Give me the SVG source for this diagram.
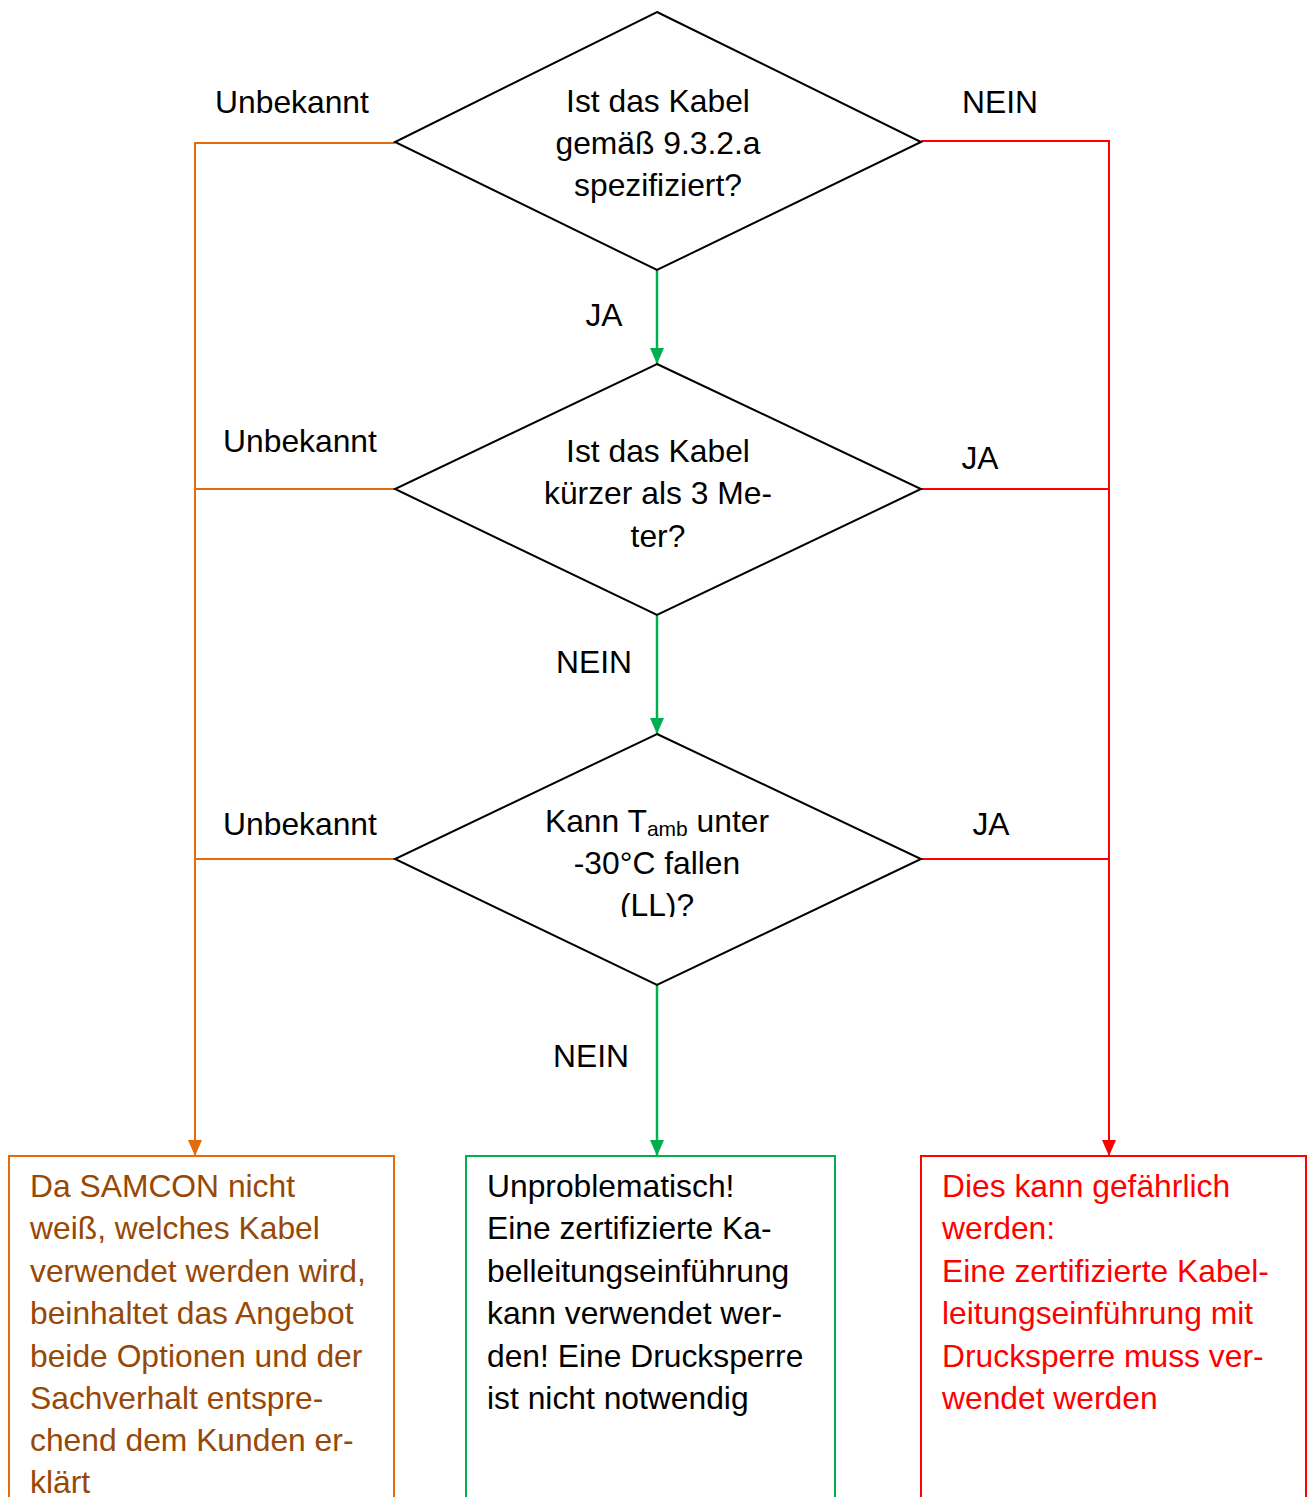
<svg xmlns="http://www.w3.org/2000/svg" width="1309" height="1497" viewBox="0 0 1309 1497">
<style>
text{font-family:"Liberation Sans",Arial,sans-serif;font-size:31.8px;fill:#000}
.c{text-anchor:middle}
.dia{fill:#fff;stroke:#000;stroke-width:2}
.or{stroke:#E36C09;stroke-width:2;fill:none}
.rd{stroke:#FF0000;stroke-width:2;fill:none}
.gr{stroke:#00B050;stroke-width:2.5;fill:none}
.tor{fill:#984806}
.trd{fill:#FF0000}
</style>
<defs>
<marker id="ao" markerWidth="16" markerHeight="16" refX="16" refY="8" orient="auto" markerUnits="userSpaceOnUse"><path d="M0,1 L16,8 L0,15 Z" fill="#E36C09"/></marker>
<marker id="ar" markerWidth="16" markerHeight="16" refX="16" refY="8" orient="auto" markerUnits="userSpaceOnUse"><path d="M0,1 L16,8 L0,15 Z" fill="#FF0000"/></marker>
<marker id="agr" markerWidth="16" markerHeight="16" refX="16" refY="8" orient="auto" markerUnits="userSpaceOnUse"><path d="M0,1 L16,8 L0,15 Z" fill="#00B050"/></marker>
<clipPath id="clip3"><rect x="395" y="734" width="526" height="183"/></clipPath>
</defs>
<g id="connectors">
<path class="or" d="M395,143 H195 V1156" marker-end="url(#ao)"/>
<path class="or" d="M395,489 H195"/>
<path class="or" d="M395,859 H195"/>
<path class="rd" d="M921,141 H1109 V1156" marker-end="url(#ar)"/>
<path class="rd" d="M921,489 H1109"/>
<path class="rd" d="M921,859 H1109"/>
<path class="gr" d="M657,270 V364" marker-end="url(#agr)"/>
<path class="gr" d="M657,615 V734" marker-end="url(#agr)"/>
<path class="gr" d="M657,985 V1156" marker-end="url(#agr)"/>
<text class="c" x="292" y="113">Unbekannt</text>
<text class="c" x="1000" y="113">NEIN</text>
<text class="c" x="604" y="326">JA</text>
<text class="c" x="300" y="452">Unbekannt</text>
<text class="c" x="980" y="469">JA</text>
<text class="c" x="594" y="673">NEIN</text>
<text class="c" x="300" y="835">Unbekannt</text>
<text class="c" x="991" y="835">JA</text>
<text class="c" x="591" y="1067">NEIN</text>
</g>
<g id="d1">
<polygon class="dia" points="657,12 921,142 657,270 395,142"/>
<text class="c" x="658" y="112">Ist das Kabel</text>
<text class="c" x="658" y="154">gemäß 9.3.2.a</text>
<text class="c" x="658" y="196">spezifiziert?</text>
</g>
<g id="d2">
<polygon class="dia" points="657,364 921,489 657,615 395,489"/>
<text class="c" x="658" y="462">Ist das Kabel</text>
<text class="c" x="658" y="504">kürzer als 3 Me-</text>
<text class="c" x="658" y="547">ter?</text>
</g>
<g id="d3">
<polygon class="dia" points="657,734 921,859 657,985 395,859"/>
<g clip-path="url(#clip3)">
<text class="c" x="657" y="832">Kann T<tspan font-size="21" dy="4">amb</tspan><tspan dy="-4"> unter</tspan></text>
<text class="c" x="657" y="874">-30°C fallen</text>
<text class="c" x="657" y="916">(LL)?</text>
</g>
</g>
<g id="box-orange">
<rect x="9" y="1156" width="385" height="360" fill="#fff" stroke="#E36C09" stroke-width="2"/>
<text class="tor" x="30" y="1197">Da SAMCON nicht</text>
<text class="tor" x="30" y="1239">weiß, welches Kabel</text>
<text class="tor" x="30" y="1282">verwendet werden wird,</text>
<text class="tor" x="30" y="1324">beinhaltet das Angebot</text>
<text class="tor" x="30" y="1367">beide Optionen und der</text>
<text class="tor" x="30" y="1409">Sachverhalt entspre-</text>
<text class="tor" x="30" y="1451">chend dem Kunden er-</text>
<text class="tor" x="30" y="1493">klärt</text>
</g>
<g id="box-green">
<rect x="466" y="1156" width="369" height="360" fill="#fff" stroke="#00B050" stroke-width="2"/>
<text x="487" y="1197">Unproblematisch!</text>
<text x="487" y="1239">Eine zertifizierte Ka-</text>
<text x="487" y="1282">belleitungseinführung</text>
<text x="487" y="1324">kann verwendet wer-</text>
<text x="487" y="1367">den! Eine Drucksperre</text>
<text x="487" y="1409">ist nicht notwendig</text>
</g>
<g id="box-red">
<rect x="921" y="1156" width="385" height="360" fill="#fff" stroke="#FF0000" stroke-width="2"/>
<text class="trd" x="942" y="1197">Dies kann gefährlich</text>
<text class="trd" x="942" y="1239">werden:</text>
<text class="trd" x="942" y="1282">Eine zertifizierte Kabel-</text>
<text class="trd" x="942" y="1324">leitungseinführung mit</text>
<text class="trd" x="942" y="1367">Drucksperre muss ver-</text>
<text class="trd" x="942" y="1409">wendet werden</text>
</g>
</svg>
